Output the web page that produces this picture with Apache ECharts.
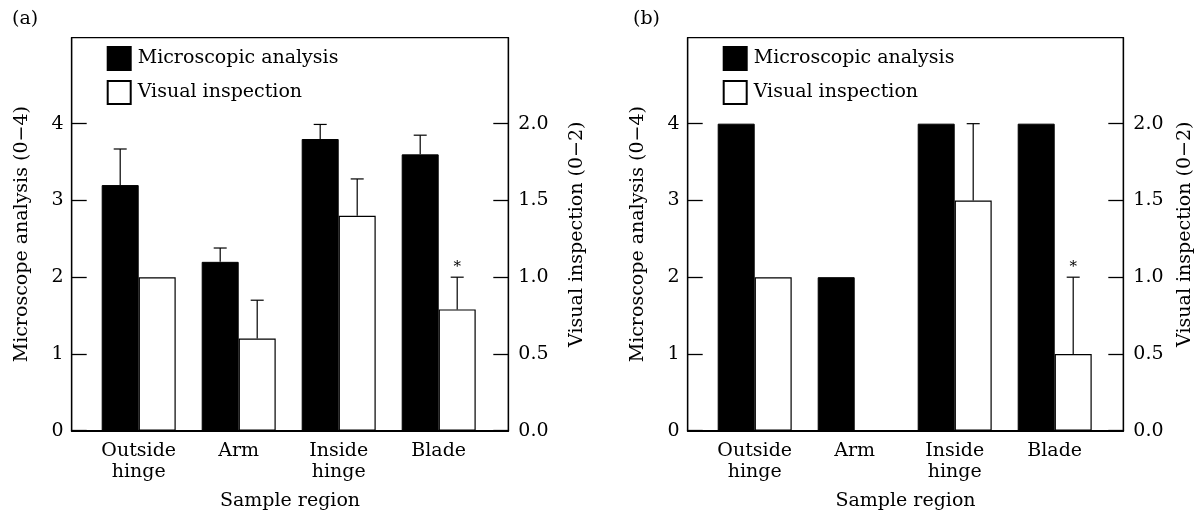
<!DOCTYPE html>
<html>
<head>
<meta charset="utf-8">
<script src="https://cdn.jsdelivr.net/npm/echarts@6/dist/echarts.min.js"></script>
<style>
html,body{margin:0;padding:0;background:#fff;}
#chart{width:1195px;height:511px;}
</style>
</head>
<body>
<div id="chart"></div>
<script>
// ---------- data ----------
const categories = ['Outside\nhinge', 'Arm', 'Inside\nhinge', 'Blade'];
const seriesNames = ['Microscopic analysis', 'Visual inspection'];
const leftTicks = [0, 1, 2, 3, 4];
const rightTicks = [0, 0.5, 1.0, 1.5, 2.0];
const panelLabels = ['(a)', '(b)'];

// panel (a)
const microA = [3.2, 2.2, 3.8, 3.6];
const microErrA = [0.47, 0.18, 0.19, 0.25];
const visualA = [1.0, 0.6, 1.4, 0.79];
const visualErrA = [0, 0.25, 0.24, 0.21];
const sigA = ['', '', '', '*'];

// panel (b)
const microB = [4, 2, 4, 4];
const microErrB = [0, 0, 0, 0];
const visualB = [1.0, 0, 1.5, 0.5];
const visualErrB = [0, 0, 0.5, 0.5];
const sigB = ['', '', '', '*'];

// ---------- build ----------
const FONT = 'DejaVu Serif';
const FS = 19;
const BAR_W = 37;
const LEFT_MAX = 5.12, RIGHT_MAX = 2.56;

const option = {
  animation: false,
  backgroundColor: '#fff',
  textStyle: { fontFamily: FONT, color: '#000' },
  title: [], legend: [], grid: [], xAxis: [], yAxis: [], series: []
};

function errRender(offset, errs, sigs) {
  return function (params, api) {
    const i = params.dataIndex;
    const v = api.value(1);
    const e = errs[i];
    const s = sigs[i];
    const p0 = api.coord([api.value(0), v]);
    const p1 = api.coord([api.value(0), v + e]);
    const x = p0[0] + offset;
    const children = [];
    if (e > 0) {
      children.push({ type: 'line', shape: { x1: x, y1: p0[1], x2: x, y2: p1[1] }, style: { stroke: '#000', lineWidth: 1.2 } });
      children.push({ type: 'line', shape: { x1: x - 6.5, y1: p1[1], x2: x + 6.5, y2: p1[1] }, style: { stroke: '#000', lineWidth: 1.2 } });
    }
    if (s) {
      children.push({ type: 'text', style: { text: s, x: x, y: p1[1] - 3, align: 'center', verticalAlign: 'bottom', font: '15px ' + FONT, fill: '#000' } });
    }
    return { type: 'group', children: children };
  };
}

// zero-height bars are not drawn (they would show as a bare outline)
const barData = arr => arr.map(v => (v === 0 ? '-' : v));

function addPanel(p, frameLeft, frameWidth, barsLeft, rightNameGap, labelLeft, micro, microErr, visual, visualErr, sig) {
  const top = 37.7, height = 393;
  const g0 = option.grid.length;
  option.grid.push({ left: frameLeft, top: top, width: frameWidth, height: height, show: true, borderColor: '#000', borderWidth: 1.2, backgroundColor: 'transparent', containLabel: false, outerBoundsMode: 'none' });
  option.grid.push({ left: barsLeft, top: top, width: 400, height: height, containLabel: false, outerBoundsMode: 'none' });

  const x0 = option.xAxis.length;
  option.xAxis.push({
    type: 'category', gridIndex: g0, data: categories, position: 'bottom',
    axisLine: { show: true, onZero: false, lineStyle: { color: '#000', width: 1.8 } },
    axisTick: { show: false }, axisLabel: { show: false }, splitLine: { show: false },
    name: 'Sample region', nameLocation: 'middle', nameGap: 61,
    nameTextStyle: { fontFamily: FONT, fontSize: FS, color: '#000' }
  });
  option.xAxis.push({
    type: 'category', gridIndex: g0 + 1, data: categories,
    axisLine: { show: false }, axisTick: { show: false }, splitLine: { show: false },
    axisLabel: { fontFamily: FONT, fontSize: FS, color: '#000', lineHeight: 21, margin: 10, interval: 0 }
  });

  const y0 = option.yAxis.length;
  option.yAxis.push({
    type: 'value', gridIndex: g0, position: 'left', min: 0, max: LEFT_MAX,
    axisLine: { show: true, lineStyle: { color: '#000', width: 1.3 } },
    axisTick: { show: true, inside: true, length: 15, customValues: leftTicks, lineStyle: { color: '#000', width: 1.3 } },
    axisLabel: { customValues: leftTicks, fontFamily: FONT, fontSize: FS, color: '#000', margin: 8 },
    splitLine: { show: false },
    name: 'Microscope analysis (0\u22124)', nameLocation: 'middle', nameGap: 40,
    nameTextStyle: { fontFamily: FONT, fontSize: FS, color: '#000' }
  });
  option.yAxis.push({
    type: 'value', gridIndex: g0, position: 'right', min: 0, max: RIGHT_MAX,
    axisLine: { show: true, lineStyle: { color: '#000', width: 1.3 } },
    axisTick: { show: true, inside: true, length: 15, customValues: rightTicks, lineStyle: { color: '#000', width: 1.3 } },
    axisLabel: { customValues: rightTicks, fontFamily: FONT, fontSize: FS, color: '#000', margin: 10, formatter: v => v.toFixed(1) },
    splitLine: { show: false },
    name: 'Visual inspection (0\u22122)', nameLocation: 'middle', nameGap: rightNameGap,
    nameTextStyle: { fontFamily: FONT, fontSize: FS, color: '#000' }
  });
  option.yAxis.push({ type: 'value', gridIndex: g0 + 1, min: 0, max: LEFT_MAX, show: false });
  option.yAxis.push({ type: 'value', gridIndex: g0 + 1, min: 0, max: RIGHT_MAX, show: false });

  option.series.push({
    name: seriesNames[0], type: 'bar', xAxisIndex: x0 + 1, yAxisIndex: y0 + 2,
    data: barData(micro), barWidth: BAR_W, barGap: '0%',
    itemStyle: { color: '#000', borderColor: '#000', borderWidth: 1 }
  });
  option.series.push({
    name: seriesNames[1], type: 'bar', xAxisIndex: x0 + 1, yAxisIndex: y0 + 3,
    data: barData(visual), barWidth: BAR_W, barGap: '0%',
    itemStyle: { color: '#fff', borderColor: '#000', borderWidth: 1.2 }
  });
  option.series.push({
    type: 'custom', xAxisIndex: x0 + 1, yAxisIndex: y0 + 2, z: 5,
    data: micro.map((v, i) => [i, v]), encode: { x: 0, y: 1 },
    renderItem: errRender(-BAR_W / 2, microErr, ['', '', '', ''])
  });
  option.series.push({
    type: 'custom', xAxisIndex: x0 + 1, yAxisIndex: y0 + 3, z: 5,
    data: visual.map((v, i) => [i, v]), encode: { x: 0, y: 1 },
    renderItem: errRender(BAR_W / 2, visualErr, sig)
  });

  option.legend.push({
    left: frameLeft + 30, top: 41, orient: 'vertical', itemWidth: 23, itemHeight: 23, itemGap: 9,
    icon: 'rect', data: seriesNames, selectedMode: false,
    textStyle: { fontFamily: FONT, fontSize: FS, color: '#000', padding: [0, 0, 0, 2] }
  });
  option.title.push({
    text: panelLabels[p], left: labelLeft, top: 5,
    textStyle: { fontFamily: FONT, fontSize: FS, fontWeight: 'normal', color: '#000' }
  });
}

addPanel(0, 71.7, 436.6, 88.7, 59, 7, microA, microErrA, visualA, visualErrA, sigA);
addPanel(1, 687.7, 435.6, 704.7, 52, 628, microB, microErrB, visualB, visualErrB, sigB);

const chart = echarts.init(document.getElementById('chart'), null, { renderer: 'canvas' });
chart.setOption(option);
</script>
</body>
</html>
